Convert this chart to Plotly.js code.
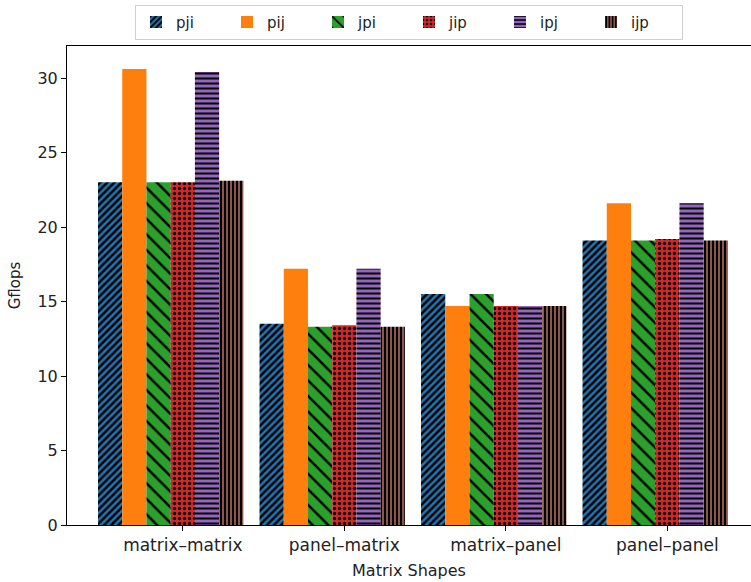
<!DOCTYPE html>
<html>
<head>
<meta charset="utf-8">
<script src="https://cdn.plot.ly/plotly-3.0.1.min.js"></script>
<style>html,body{margin:0;padding:0;background:#fff;}#chart{width:751px;height:582px;}</style>
</head>
<body>
<div id="chart"></div>
<script>
const categories = ["matrix–matrix", "panel–matrix", "matrix–panel", "panel–panel"];
const seriesNames = ["pji", "pij", "jpi", "jip", "ipj", "ijp"];
const pji = [23.0, 13.5, 15.5, 19.1];
const pij = [30.6, 17.2, 14.7, 21.6];
const jpi = [23.0, 13.3, 15.5, 19.1];
const jip = [23.0, 13.4, 14.7, 19.2];
const ipj = [30.4, 17.2, 14.7, 21.6];
const ijp = [23.1, 13.3, 14.7, 19.1];
const seriesValues = [pji, pij, jpi, jip, ipj, ijp];
const yTicks = [0, 5, 10, 15, 20, 25, 30];

const barW = 0.15;
const styles = [
  {color: "#1f77b4", shape: "/", size: 5, solidity: 0.5},
  {color: "#ff7f0e", shape: "", size: 8, solidity: 0.3},
  {color: "#2ca02c", shape: "\\", size: 11, solidity: 0.22},
  {color: "#d62728", shape: ".", size: 5, solidity: 0.35},
  {color: "#9467bd", shape: "-", size: 5, solidity: 0.4},
  {color: "#8c564b", shape: "|", size: 4, solidity: 0.5}
];

const traces = seriesNames.map((name, i) => {
  const st = styles[i];
  const marker = {color: st.color, line: {width: 0}};
  if (st.shape) {
    marker.pattern = {shape: st.shape, fgcolor: "#000", bgcolor: st.color, size: st.size, solidity: st.solidity, fillmode: "replace"};
  }
  return {
    type: "bar",
    name: name,
    x: categories.map((c, g) => g + i * barW),
    y: seriesValues[i],
    width: barW,
    marker: marker,
    hoverinfo: "y+name"
  };
});

const xTickFont = {family: "DejaVu Sans, sans-serif", size: 17, color: "#222"};
const yTickFont = {family: "DejaVu Sans, sans-serif", size: 16, color: "#222"};
const titleFont = {family: "DejaVu Sans, sans-serif", size: 16, color: "#222"};

const layout = {
  width: 751, height: 582,
  margin: {l: 67, r: 0, t: 46, b: 57, pad: 0},
  paper_bgcolor: "#fff", plot_bgcolor: "#fff",
  font: yTickFont,
  barmode: "overlay",
  showlegend: true,
  legend: {
    orientation: "h", x: 0.0994, xanchor: "left", y: 1.086, yanchor: "top",
    bgcolor: "#fff", bordercolor: "#d0d0d0", borderwidth: 1,
    font: {family: "DejaVu Sans, sans-serif", size: 15, color: "#222"},
    entrywidth: 46, entrywidthmode: "pixels", traceorder: "normal"
  },
  xaxis: {
    range: [-0.267, 3.968],
    tickvals: categories.map((c, g) => g + 3 * barW),
    ticktext: categories,
    ticks: "outside", ticklen: 5, tickcolor: "#000", tickwidth: 1,
    showline: true, linecolor: "#000", linewidth: 1, mirror: true,
    showgrid: false, zeroline: false,
    tickfont: xTickFont,
    title: {text: "Matrix Shapes", font: titleFont, standoff: 10}
  },
  yaxis: {
    range: [0, 32.15],
    tickvals: yTicks,
    ticktext: yTicks.map(String),
    ticks: "outside", ticklen: 5, tickcolor: "#000", tickwidth: 1,
    showline: true, linecolor: "#000", linewidth: 1, mirror: false,
    showgrid: false, zeroline: false,
    tickfont: yTickFont,
    title: {text: "Gflops", font: {family: "DejaVu Sans, sans-serif", size: 15, color: "#222"}, standoff: 13}
  }
};

Plotly.newPlot("chart", traces, layout, {displayModeBar: false, staticPlot: true});
</script>
</body>
</html>
